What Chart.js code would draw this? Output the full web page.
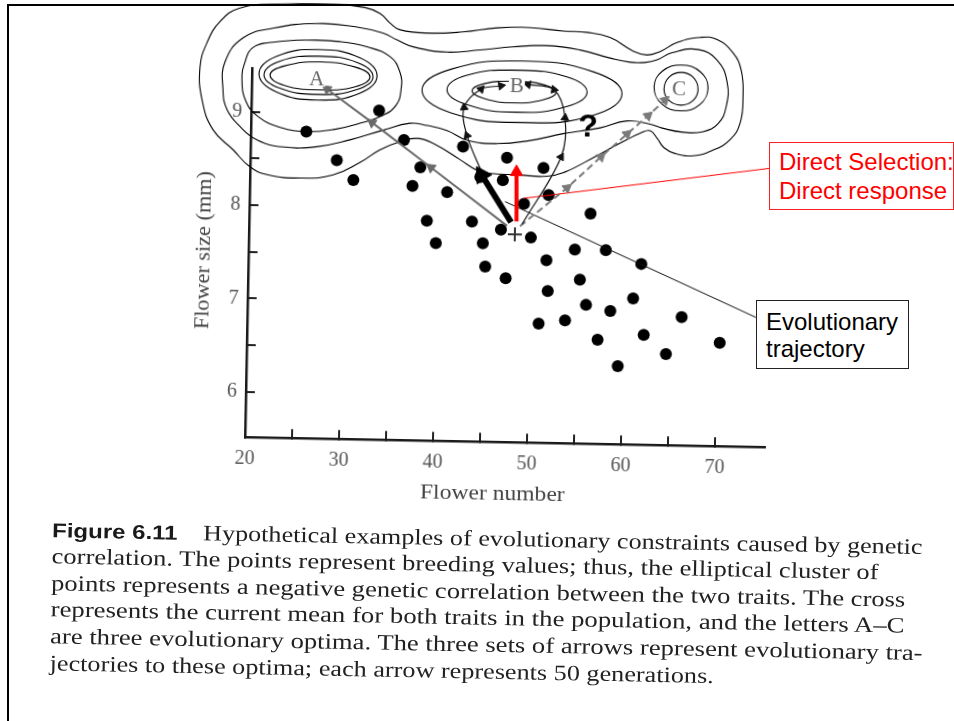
<!DOCTYPE html>
<html>
<head>
<meta charset="utf-8">
<title>Figure 6.11</title>
<script src="https://cdn.jsdelivr.net/npm/chart.js@4.4.1/dist/chart.umd.min.js"></script>
<style>
html,body{margin:0;padding:0;background:#fff;}
body{width:954px;height:721px;overflow:hidden;position:relative;}
#rot{position:absolute;left:0;top:0;width:954px;height:721px;transform-origin:245px 437.3px;transform:rotate(1.1deg);}
#c{position:absolute;left:0;top:0;width:954px;height:721px;}
.txt{position:absolute;white-space:nowrap;line-height:26px;transform-origin:0 50%;color:#222;font-family:'Liberation Serif','Times New Roman',serif;font-size:22px;}
.head{font-family:'Liberation Sans',Arial,sans-serif;font-weight:bold;font-size:20px;color:#1a1a1a;}
.axt{color:#444;font-size:20px;}
#frame{position:absolute;left:7px;top:4px;width:1200px;height:1000px;border-left:2.5px solid #000;border-top:2.5px solid #000;pointer-events:none;}
.box{position:absolute;box-sizing:border-box;background:#fff;font-family:'Liberation Sans',Arial,sans-serif;font-size:24px;white-space:nowrap;}
#redbox{left:769px;top:142px;width:185px;height:68px;border:1.3px solid #ff2020;color:#ff0000;padding:4px 0 0 9px;line-height:29px;}
#blackbox{left:756px;top:300px;width:153px;height:69px;border:1.3px solid #222;color:#000;padding:7px 0 0 9px;line-height:27px;}
</style>
</head>
<body>
<div id="rot"><canvas id="c" width="954" height="721"></canvas></div>
<div id="frame"></div>
<div class="box" id="redbox">Direct Selection:<br>Direct response</div>
<div class="box" id="blackbox">Evolutionary<br>trajectory</div>
<script>
// ---------- data ----------
const flowerNumber = [25.9,33.6,36.3,29.2,31.0,38.1,37.3,41.0,42.6,44.5,47.3,46.9,51.2,51.8,49.2,38.9,43.7,39.9,44.9,46.8,50.0,56.3,45.2,47.4,51.7,51.9,51.0,54.7,58.0,61.8,55.3,56.0,53.8,57.3,58.6,61.0,62.2,59.5,64.6,66.2,70.3];
const flowerSize   = [8.80,9.04,8.73,8.50,8.29,8.44,8.24,8.18,8.67,8.35,8.56,8.32,8.46,8.17,8.07,7.87,7.87,7.63,7.64,7.79,7.71,7.98,7.39,7.27,7.47,7.14,6.79,7.59,7.59,7.45,7.27,7.00,6.83,6.63,6.94,7.08,6.69,6.35,6.49,6.89,6.62];
const crossMean = {x:48.29, y:7.74};

const xTicks = [20,25,30,35,40,45,50,55,60,65,70];
const yTicks = [6,6.5,7,7.5,8,8.5,9];

const peakNames = ['A','B','C'];
const peakX = [26.90,48.19,65.46];
const peakY = [9.37,9.34,9.33];
const questionMark = {text:'?', x:55.86, y:8.90};

// fitness contours (closed curves)
const contourA1 = [[27.24,9.55],[31.00,9.50],[32.56,9.40],[31.00,9.29],[27.24,9.25],[23.48,9.29],[21.92,9.40],[23.48,9.50]];
const contourA2 = [[27.08,9.61],[31.18,9.55],[32.88,9.40],[31.18,9.26],[27.08,9.20],[22.98,9.26],[21.28,9.40],[22.98,9.55]];
const contourA3 = [[27.03,9.68],[31.47,9.60],[33.31,9.41],[31.47,9.22],[27.03,9.14],[22.59,9.22],[20.75,9.41],[22.59,9.60]];
const contourA4 = [[18.95,9.34],[19.23,9.53],[20.06,9.69],[22.17,9.75],[25.79,9.78],[29.30,9.77],[32.18,9.72],[34.65,9.62],[35.75,9.45],[35.89,9.27],[35.39,9.10],[34.02,8.99],[31.59,8.90],[28.95,8.83],[25.97,8.80],[23.09,8.84],[20.73,8.95],[19.42,9.11]];
const contourB1 = [[47.91,9.38],[51.07,9.35],[52.38,9.27],[51.07,9.19],[47.91,9.15],[44.75,9.19],[43.44,9.27],[44.75,9.35]];
const contourB2 = [[48.23,9.50],[53.50,9.44],[55.68,9.28],[53.50,9.12],[48.23,9.05],[42.96,9.12],[40.78,9.28],[42.96,9.44]];
const contourB3 = [[48.76,9.60],[56.28,9.50],[59.40,9.27],[56.28,9.03],[48.76,8.94],[41.24,9.03],[38.12,9.27],[41.24,9.50]];
const contourC1 = [[65.67,9.51],[66.95,9.46],[67.48,9.33],[66.95,9.21],[65.67,9.16],[64.39,9.21],[63.86,9.33],[64.39,9.46]];
const contourC2 = [[65.67,9.59],[67.70,9.52],[68.54,9.35],[67.70,9.17],[65.67,9.10],[63.64,9.17],[62.80,9.35],[63.64,9.52]];
const contourInner = [[16.95,9.23],[17.11,9.53],[18.97,9.79],[22.14,9.90],[26.82,9.96],[31.08,9.93],[33.86,9.87],[35.36,9.80],[37.08,9.73],[40.70,9.68],[44.21,9.71],[47.71,9.75],[51.33,9.77],[54.85,9.73],[58.06,9.65],[60.19,9.61],[61.79,9.61],[63.06,9.64],[64.64,9.72],[67.40,9.76],[69.44,9.65],[70.55,9.42],[70.50,9.15],[69.68,8.97],[68.10,8.88],[65.97,8.87],[63.73,8.91],[62.45,8.95],[59.99,8.98],[57.14,8.90],[55.01,8.86],[53.21,8.83],[49.71,8.75],[46.21,8.71],[43.01,8.74],[40.86,8.84],[38.73,8.89],[36.91,8.91],[34.05,8.83],[30.56,8.72],[27.07,8.64],[23.45,8.63],[20.67,8.70],[18.84,8.84],[17.42,9.02]];
const contourOuter = [[14.74,9.12],[14.46,9.47],[15.15,9.73],[16.49,9.96],[18.59,10.11],[22.84,10.16],[28.16,10.17],[31.89,10.14],[33.50,10.08],[34.58,9.98],[35.66,9.91],[38.86,9.88],[42.36,9.90],[45.97,9.95],[49.48,9.96],[53.00,9.93],[55.56,9.92],[58.01,9.87],[60.49,9.73],[61.99,9.69],[63.36,9.73],[65.15,9.83],[67.59,9.89],[69.40,9.87],[71.13,9.73],[72.02,9.55],[72.28,9.27],[72.02,8.98],[70.99,8.80],[69.10,8.68],[67.09,8.62],[65.17,8.64],[63.98,8.70],[63.22,8.80],[62.46,8.88],[61.40,8.85],[60.03,8.78],[57.71,8.65],[55.61,8.53],[53.50,8.42],[51.59,8.37],[48.40,8.38],[45.53,8.39],[44.14,8.42],[42.31,8.53],[39.40,8.70],[37.69,8.75],[35.89,8.71],[33.78,8.62],[31.67,8.48],[28.83,8.34],[25.32,8.30],[21.81,8.33],[19.98,8.41],[18.14,8.59],[15.97,8.80]];

// evolutionary trajectories (each arrow = 50 generations)
const pathA = [[47.44,7.83],[39.24,8.44],[32.87,8.91],[28.01,9.26]];
const pathBLeft = [[45.01,8.32],[43.00,8.79],[42.63,9.09],[44.40,9.29],[46.52,9.33]];
const pathBRight = [[49.03,7.85],[53.05,8.58],[53.39,9.00],[52.16,9.30],[49.39,9.35]];
const pathC = [[48.82,7.83],[53.75,8.25],[57.30,8.59],[60.02,8.84],[62.22,9.04],[63.99,9.21]];
const thickArrow = [[47.86,7.87],[44.65,8.37]];
const redArrow = [[48.44,7.88],[48.34,8.41]];
const redLeader = [[49.19,8.13],[75.20,8.50]];
const blackLeader = [[47.18,8.09],[74.12,6.90]];

// caption text
const figureLabel = 'Figure 6.11';
const captionLines = [
  'Hypothetical examples of evolutionary constraints caused by genetic',
  'correlation. The points represent breeding values; thus, the elliptical cluster of',
  'points represents a negative genetic correlation between the two traits. The cross',
  'represents the current mean for both traits in the population, and the letters A\u2013C',
  'are three evolutionary optima. The three sets of arrows represent evolutionary tra-',
  'jectories to these optima; each arrow represents 50 generations.'
];

// ---------- build datasets ----------
const toXY = pts => pts.map(p => ({x:p[0], y:p[1]}));

function closedCurve(pts, color, width){
  const n = pts.length;
  const data = toXY([pts[n-1], ...pts, pts[0], pts[1]]);
  const last = data.length - 1;
  return {data, showLine:true, pointRadius:0, pointHoverRadius:0, borderColor:color, borderWidth:width,
    tension:0.45, capBezierPoints:false, clip:false,
    segment:{borderColor: c => (c.p0DataIndex === 0 || c.p1DataIndex === last) ? 'rgba(0,0,0,0)' : color}};
}

function headAngle(c){
  const i = c.dataIndex;
  if (i === 0) return 0;
  const d = c.dataset.data, sx = c.chart.scales.x, sy = c.chart.scales.y;
  const dx = sx.getPixelForValue(d[i].x) - sx.getPixelForValue(d[i-1].x);
  const dy = sy.getPixelForValue(d[i].y) - sy.getPixelForValue(d[i-1].y);
  return Math.atan2(dx, -dy) * 180 / Math.PI;
}

function arrowPath(pts, color, width, head, dash, tension){
  return {data: toXY(pts), showLine:true, borderColor:color, borderWidth:width, borderDash:dash,
    tension:tension, capBezierPoints:false, clip:false,
    pointStyle:'triangle', pointRadius: c => c.dataIndex === 0 ? 0 : head, pointHoverRadius:0,
    pointBackgroundColor:color, pointBorderColor:color, pointBorderWidth:1, pointRotation: headAngle};
}

function plainLine(pts, color, width){
  return {data: toXY(pts), showLine:true, pointRadius:0, pointHoverRadius:0, borderColor:color, borderWidth:width, clip:false};
}

const datasets = [
  arrowPath(redArrow, '#ff0000', 4, 7, [], 0),
  arrowPath(thickArrow, '#000', 6, 10, [], 0),
  {data:[crossMean], pointStyle:'cross', pointRadius:7, pointBorderColor:'#333', pointBorderWidth:2, clip:false},
  arrowPath(pathA, '#6a6a6a', 2, 5.5, [], 0),
  arrowPath(pathBLeft, '#111', 1.2, 4.5, [], 0.35),
  arrowPath(pathBRight, '#111', 1.2, 4.5, [], 0.35),
  arrowPath(pathC, '#7a7a7a', 2, 5.5, [7,4], 0),
  plainLine(redLeader, '#ff0000', 1),
  plainLine(blackLeader, '#111', 1),
  {data: flowerNumber.map((x,i) => ({x, y:flowerSize[i]})), pointRadius:6, pointHoverRadius:6,
   pointBackgroundColor:'#000', pointBorderColor:'#000', pointBorderWidth:0, showLine:false, clip:false},
  closedCurve(contourA1,'#000',1.1), closedCurve(contourA2,'#000',1.1), closedCurve(contourA3,'#000',1.1),
  closedCurve(contourA4,'#000',1.1), closedCurve(contourB1,'#000',1.1), closedCurve(contourB2,'#000',1.1),
  closedCurve(contourB3,'#000',1.1), closedCurve(contourC1,'#000',1.1), closedCurve(contourC2,'#000',1.1),
  closedCurve(contourInner,'#000',1.1), closedCurve(contourOuter,'#000',1.1)
];

const labelPlugin = {
  id:'peakLabels',
  afterDatasetsDraw(chart){
    const {ctx, scales:{x, y}} = chart;
    ctx.save();
    ctx.textAlign = 'center';
    ctx.textBaseline = 'middle';
    ctx.font = '21px "Liberation Serif"';
    peakNames.forEach((n,i) => {
      const px = x.getPixelForValue(peakX[i]), py = y.getPixelForValue(peakY[i]);
      const w = ctx.measureText(n).width;
      ctx.fillStyle = '#fff';
      ctx.fillRect(px - w/2 - 1, py - 8, w + 2, 16);
      ctx.fillStyle = '#666';
      ctx.fillText(n, px, py + 1);
    });
    ctx.font = 'bold 32px "Liberation Sans"';
    ctx.fillStyle = '#000';
    ctx.fillText(questionMark.text, x.getPixelForValue(questionMark.x), y.getPixelForValue(questionMark.y));
    ctx.restore();
  }
};

const tickFont = {family:'Liberation Serif', size:20};
new Chart(document.getElementById('c'), {
  type:'scatter',
  data:{datasets},
  options:{
    responsive:false, animation:false, devicePixelRatio:1, events:[],
    layout:{padding:{left:185, right:189, top:68, bottom:243.7}},
    plugins:{legend:{display:false}, tooltip:{enabled:false}},
    elements:{line:{capBezierPoints:false}},
    scales:{
      x:{type:'linear', min:20, max:75.32,
        afterBuildTicks: s => { s.ticks = xTicks.map(v => ({value:v})); },
        afterFit: s => { s.height = 40; },
        ticks:{autoSkip:false, maxRotation:0, padding:18, color:'#555', font:tickFont,
          callback: v => (v % 10 === 0 ? String(v) : '')},
        grid:{display:true, drawOnChartArea:false, drawTicks:true, tickLength:-9, color:'#222', lineWidth:2},
        border:{display:true, color:'#1a1a1a', width:2.5}},
      y:{type:'linear', min:5.511, max:9.469,
        afterBuildTicks: s => { s.ticks = yTicks.map(v => ({value:v})); },
        afterFit: s => { s.width = 60; },
        ticks:{autoSkip:false, padding:18, color:'#555', font:tickFont,
          callback: v => (Number.isInteger(v) ? String(v) : '')},
        grid:{display:true, drawOnChartArea:false, drawTicks:true, tickLength:-9, color:'#222', lineWidth:2},
        border:{display:true, color:'#1a1a1a', width:2.5}}
    }
  },
  plugins:[labelPlugin]
});

// ---------- text placed inside the (slightly tilted) scan ----------
const rot = document.getElementById('rot');
function placeText(text, cls, left, right, cy){
  const d = document.createElement('div');
  d.className = 'txt ' + cls;
  d.textContent = text;
  rot.appendChild(d);
  const w = d.offsetWidth, h = d.offsetHeight;
  d.style.left = left + 'px';
  d.style.top = (cy - h/2) + 'px';
  d.style.transform = 'scaleX(' + ((right - left) / w) + ')';
}
function placeVertical(text, cls, cx, cy, len){
  const d = document.createElement('div');
  d.className = 'txt ' + cls;
  d.textContent = text;
  rot.appendChild(d);
  const w = d.offsetWidth, h = d.offsetHeight;
  d.style.left = (cx - w/2) + 'px';
  d.style.top = (cy - h/2) + 'px';
  d.style.transformOrigin = '50% 50%';
  d.style.transform = 'rotate(-90deg) scaleX(' + (len / w) + ')';
}
function layoutText(){
  placeText('Flower number', 'axt', 493.1 - 72.5, 493.1 + 72.5, 488.3);
  placeVertical('Flower size (mm)', 'axt', 199.4, 250.8, 158);
  placeText(figureLabel, 'head', 54, 180, 533.5);
  const lineLayout = [[205,924,533.5],[54,880.5,560.1],[54,908,586.7],[54,908.5,613.3],[54,926,639.9],[54,718.6,666.5]];
  captionLines.forEach((t,i) => placeText(t, '', lineLayout[i][0], lineLayout[i][1], lineLayout[i][2]));
}
if (document.fonts && document.fonts.ready) { document.fonts.ready.then(layoutText); } else { layoutText(); }
</script>
</body>
</html>
